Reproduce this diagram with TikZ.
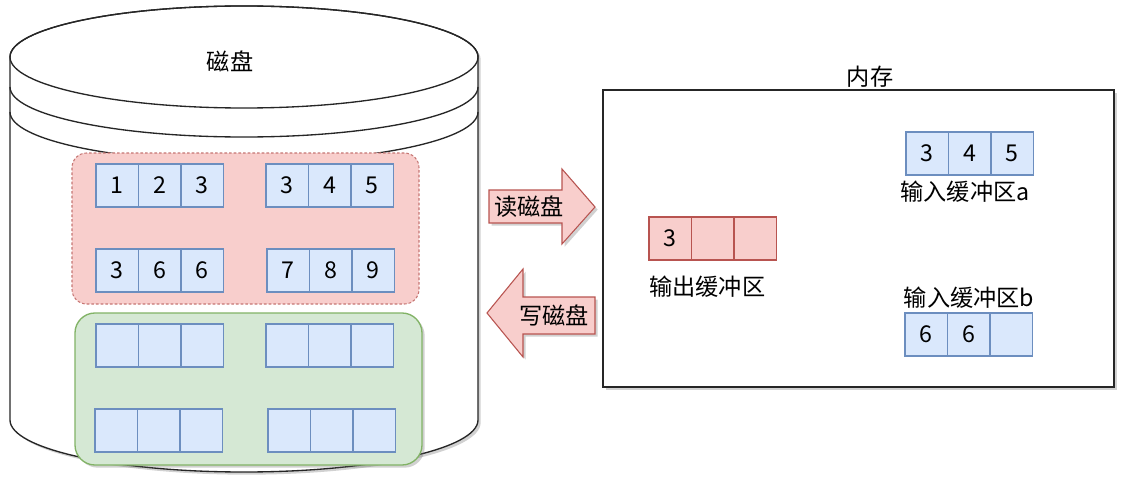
\documentclass[tikz,border=0pt]{standalone}
\usepackage{fontspec}
\setmainfont{Noto Sans CJK SC}
\usetikzlibrary{positioning,shadows}
\definecolor{cellfill}{HTML}{DAE8FC}
\definecolor{celledge}{HTML}{6C8EBF}
\definecolor{redfill}{HTML}{F8CECC}
\definecolor{rededge}{HTML}{B85450}
\definecolor{greenfill}{HTML}{D5E8D4}
\definecolor{greenedge}{HTML}{82B366}
\tikzstyle{bluecell}=[draw=celledge, fill=cellfill, line width=0.9pt, minimum width=31.9pt, minimum height=32.2pt, inner sep=0pt, outer sep=0pt]
\tikzstyle{redcell}=[bluecell, draw=rededge, fill=redfill]
\tikzstyle{softshadow}=[drop shadow={shadow xshift=2pt, shadow yshift=-2pt, opacity=.3, fill=black!60}]
\newcommand{\cellrow}[6]{
 \node[#3, anchor=north west] (#1a) at #2 {#4};
 \node[#3, right=0pt of #1a] (#1b) {#5};
 \node[#3, right=0pt of #1b] (#1c) {#6};
}

\begin{document}
\begin{tikzpicture}[x=0.75pt, y=-0.75pt, font=\fontsize{17.4}{21}\selectfont]
 \useasboundingbox (0,0) rectangle (1125,478);
% disk
 \filldraw[fill=white, draw=black!85, line width=1pt, softshadow] (10,57) arc (180:360:234 and 51) --
  (478,420) arc (0:180:234 and 52) -- cycle;
 \draw[black!85, line width=1pt] (244,57) ellipse [x radius=234, y radius=51];
 \draw[black!85, line width=1pt] (10,87) arc (180:0:234 and 50);
 \draw[black!85, line width=1pt] (10,112) arc (180:0:234 and 50);
 \node (disk) at (230,61) {磁盘};
%
 \filldraw[fill=redfill, draw=rededge!80, line width=0.8pt, dash pattern=on 2pt off 1.5pt, rounded corners=11pt] (72,153) rectangle (419,304);
 \filldraw[fill=greenfill, draw=greenedge, line width=1pt, rounded corners=15pt, softshadow] (75,313) rectangle (422,465);
%
 \cellrow{ra}{(96,164)}{bluecell}{1}{2}{3}
 \cellrow{rb}{(266,164)}{bluecell}{3}{4}{5}
 \cellrow{rc}{(96,249)}{bluecell}{3}{6}{6}
 \cellrow{rd}{(267,249)}{bluecell}{7}{8}{9}
 \cellrow{ga}{(96,324)}{bluecell}{}{}{}
 \cellrow{gb}{(266,324)}{bluecell}{}{}{}
 \cellrow{gc}{(95,409)}{bluecell}{}{}{}
 \cellrow{gd}{(268,409)}{bluecell}{}{}{}
% arrows
 \filldraw[fill=redfill, draw=rededge, line width=0.8pt, softshadow] (489,190) -- (562,190) -- (562,169) -- (595,207) --
  (562,244) -- (562,223) -- (489,223) -- cycle;
 \node (rd) at (529,207) {读磁盘};
 \filldraw[fill=redfill, draw=rededge, line width=0.8pt, softshadow] (595,297) -- (523,297) -- (523,269) -- (487,313) --
  (523,357) -- (523,334) -- (595,334) -- cycle;
 \node (wr) at (554,315) {写磁盘};
% memory
 \filldraw[fill=white, draw=black!85, line width=1pt, softshadow] (603,90) rectangle (1114,387);
 \node (mem) at (870,77) {内存};
 \cellrow{ia}{(906,132)}{bluecell}{3}{4}{5}
 \node (ialabel) at (965,192) {输入缓冲区a};
 \cellrow{oc}{(649,217)}{redcell}{3}{}{}
 \node[anchor=west, inner sep=0pt] (oclabel) at (649,287) {输出缓冲区};
 \node (iblabel) at (969,298) {输入缓冲区b};
 \cellrow{ib}{(905,313)}{bluecell}{6}{6}{}
\end{tikzpicture}
\end{document}
